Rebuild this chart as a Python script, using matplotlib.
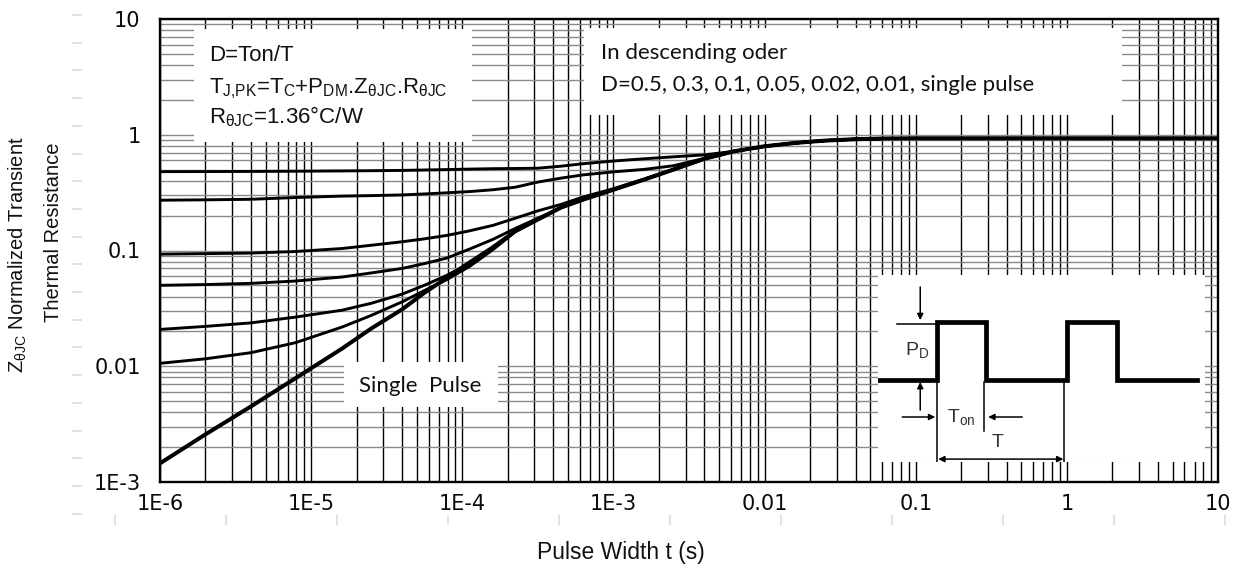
import numpy as np
import matplotlib
matplotlib.use("Agg")
import matplotlib.pyplot as plt
from matplotlib.ticker import FixedLocator, LogLocator, NullFormatter
from matplotlib.patches import Rectangle

# ---------------- data ----------------
pulse_width = [1e-6, 2e-6, 4e-6, 7.9e-6, 1.6e-5, 2.5e-5, 4e-5, 5.6e-5, 7.9e-5, 1.12e-4,
               1.6e-4, 2.24e-4, 3.16e-4, 4.5e-4, 6.3e-4, 1e-3, 1.6e-3, 2.5e-3, 4e-3,
               6.3e-3, 1e-2, 1.6e-2, 2.5e-2, 4e-2, 6.3e-2, 0.1, 1, 10]

z_d050 = [0.48, 0.481, 0.482, 0.484, 0.487, 0.489, 0.492, 0.496, 0.50, 0.505,
          0.509, 0.511, 0.514, 0.535, 0.562, 0.593, 0.62, 0.645, 0.67,
          0.72, 0.795, 0.85, 0.89, 0.915, 0.928, 0.93, 0.93, 0.93]
z_d030 = [0.272, 0.274, 0.277, 0.287, 0.295, 0.298, 0.302, 0.308, 0.315, 0.323,
          0.335, 0.352, 0.39, 0.422, 0.45, 0.478, 0.502, 0.54, 0.625,
          0.72, 0.795, 0.85, 0.89, 0.915, 0.928, 0.93, 0.93, 0.93]
z_d010 = [0.093, 0.094, 0.095, 0.098, 0.104, 0.111, 0.119, 0.126, 0.135, 0.148,
          0.165, 0.19, 0.22, 0.25, 0.29, 0.342, 0.415, 0.505, 0.62,
          0.72, 0.795, 0.85, 0.89, 0.915, 0.928, 0.93, 0.93, 0.93]
z_d005 = [0.050, 0.0508, 0.052, 0.0545, 0.059, 0.064, 0.070, 0.077, 0.086, 0.103,
          0.125, 0.155, 0.19, 0.235, 0.277, 0.336, 0.41, 0.50, 0.62,
          0.72, 0.795, 0.85, 0.89, 0.915, 0.928, 0.93, 0.93, 0.93]
z_d002 = [0.0208, 0.0221, 0.0237, 0.0266, 0.0305, 0.035, 0.042, 0.050, 0.061, 0.078,
          0.104, 0.146, 0.186, 0.235, 0.276, 0.335, 0.41, 0.50, 0.62,
          0.72, 0.795, 0.85, 0.89, 0.915, 0.928, 0.93, 0.93, 0.93]
z_d001 = [0.0106, 0.0116, 0.0131, 0.016, 0.0218, 0.0275, 0.036, 0.045, 0.056, 0.073,
          0.102, 0.145, 0.185, 0.235, 0.275, 0.335, 0.41, 0.50, 0.62,
          0.72, 0.795, 0.85, 0.89, 0.915, 0.928, 0.93, 0.93, 0.93]
z_single = [0.00145, 0.00258, 0.0045, 0.0079, 0.0142, 0.0212, 0.031, 0.043, 0.058, 0.079,
            0.107, 0.147, 0.185, 0.235, 0.275, 0.335, 0.41, 0.50, 0.62,
            0.72, 0.795, 0.85, 0.89, 0.915, 0.928, 0.93, 0.93, 0.93]

duty_series = [z_d050, z_d030, z_d010, z_d005, z_d002, z_d001]

x_ticks = [1e-6, 1e-5, 1e-4, 1e-3, 1e-2, 1e-1, 1, 10]
x_labels = ["1E-6", "1E-5", "1E-4", "1E-3", "0.01", "0.1", "1", "10"]
y_ticks = [1e-3, 1e-2, 1e-1, 1, 10]
y_labels = ["1E-3", "0.01", "0.1", "1", "10"]

# inset schematic (inset-axes units)
wave_u = [0.0, 0.18, 0.18, 0.33, 0.33, 0.578, 0.578, 0.731, 0.731, 0.976]
wave_v = [0.439, 0.439, 0.749, 0.749, 0.439, 0.439, 0.749, 0.749, 0.439, 0.439]

# ---------------- figure ----------------
W, H = 1242, 566
fig = plt.figure(figsize=(W / 100, H / 100), dpi=100)
fig.patch.set_facecolor("white")

def fx(px):
    return px / W

def fy(py):
    return 1 - py / H

# ghost (faint) ticks of an outer frame
gx0, gx1, gy0, gy1 = 82, 1232, 10, 515
gax = fig.add_axes([fx(gx0), fy(gy1), fx(gx1 - gx0), (gy1 - gy0) / H])
gax.set_xlim(gx0, gx1)
gax.set_ylim(gy1, gy0)
gax.patch.set_alpha(0)
for s in gax.spines.values():
    s.set_visible(False)
gax.set_xticks([115 + 111 * k for k in range(11)])
gax.set_yticks([15 + 27.7 * k for k in range(19)])
gax.tick_params(direction="out", length=7, width=1.3, color="#dedede",
                labelbottom=False, labelleft=False)

L, R, T, B = 160, 1218, 19, 482
ax = fig.add_axes([fx(L), fy(B), fx(R - L), (B - T) / H])
ax.set_xscale("log")
ax.set_yscale("log")
ax.set_xlim(1e-6, 10)
ax.set_ylim(1e-3, 10)

ax.xaxis.set_major_locator(FixedLocator(x_ticks))
ax.yaxis.set_major_locator(FixedLocator(y_ticks))
ax.xaxis.set_minor_locator(LogLocator(base=10, subs=np.arange(2, 10), numticks=100))
ax.yaxis.set_minor_locator(LogLocator(base=10, subs=np.arange(2, 10), numticks=100))
ax.xaxis.set_minor_formatter(NullFormatter())
ax.yaxis.set_minor_formatter(NullFormatter())
ax.set_xticklabels(x_labels, fontfamily="DejaVu Sans", fontsize=15, color="#0a0a0a")
ax.set_yticklabels(y_labels, fontfamily="DejaVu Sans", fontsize=15, color="#0a0a0a")
ax.tick_params(which="both", length=0)
ax.tick_params(axis="x", pad=9)
ax.tick_params(axis="y", pad=14)

ax.set_axisbelow(True)
ax.grid(which="both", axis="x", color="black", lw=1.0, zorder=0.5)
ax.grid(which="both", axis="y", color="#8a8a8a", lw=1.0, zorder=0.5)
for s in ax.spines.values():
    s.set_linewidth(1.7)
    s.set_color("black")
    s.set_zorder(5)

# white boxes covering grid
def box(x0, y0, x1, y1):
    ax.add_patch(Rectangle((x0, y0), x1 - x0, y1 - y0, transform=ax.transAxes,
                           facecolor="white", edgecolor="none", zorder=2))

box(0.032, 0.734, 0.295, 0.978)
box(0.401, 0.793, 0.909, 0.981)
box(0.174, 0.162, 0.319, 0.259)

# curves
for zs in duty_series:
    ax.plot(pulse_width, zs, color="black", lw=2.1, zorder=3,
            solid_capstyle="round", solid_joinstyle="round")
ax.plot(pulse_width, z_single, color="black", lw=2.9, zorder=3,
        solid_capstyle="round", solid_joinstyle="round")

# texts
tf = dict(transform=ax.transAxes, zorder=4, color="#111111")
ax.text(0.046, 0.922, "D=Ton/T", fontfamily="Liberation Sans", fontsize=16, va="center", **tf)
ax.text(0.046, 0.850,
        r"T$_{\mathregular{J{,}PK}}$=T$_{\mathregular{C}}$+P$_{\mathregular{DM}}$."
        r"Z$_{\mathregular{\theta JC}}$.R$_{\mathregular{\theta JC}}$",
        fontfamily="Liberation Sans", fontsize=16, va="center", **tf)
ax.text(0.046, 0.789, r"R$_{\mathregular{\theta JC}}$=1.36°C/W",
        fontfamily="Liberation Sans", fontsize=16, va="center", **tf)
ax.text(0.417, 0.927, "In descending oder", fontfamily="Lato", fontsize=16, va="center", **tf)
ax.text(0.417, 0.857, "D=0.5, 0.3, 0.1, 0.05, 0.02, 0.01, single pulse",
        fontfamily="Lato", fontsize=16, va="center", **tf)
ax.text(0.2455, 0.207, "Single  Pulse", fontfamily="Lato", fontsize=16,
        ha="center", va="center", **tf)

# inset schematic
ins = ax.inset_axes([0.679, 0.043, 0.309, 0.404], zorder=6)
ins.set_xlim(0, 1)
ins.set_ylim(0, 1)
ins.set_facecolor("white")
ins.set_xticks([])
ins.set_yticks([])
for s in ins.spines.values():
    s.set_visible(False)
ins.plot(wave_u, wave_v, color="black", lw=3.4, solid_joinstyle="miter")
ins.plot([0.058, 0.18], [0.738, 0.738], color="black", lw=1.1)
ins.plot([0.18, 0.18], [0.439, 0.0], color="black", lw=1.1)
ins.plot([0.324, 0.324], [0.428, 0.166], color="black", lw=1.1)
ins.plot([0.569, 0.569], [0.428, 0.0], color="black", lw=1.1)
ins.plot([0.0, 1.0], [0.0, 0.0], color="#bbbbbb", lw=0.8, ls=(0, (2, 3)))
ap = dict(arrowstyle="-|>", color="black", lw=1.1, mutation_scale=9, shrinkA=0, shrinkB=0)
ins.annotate("", xy=(0.128, 0.759), xytext=(0.128, 0.936), arrowprops=ap)
ins.annotate("", xy=(0.128, 0.428), xytext=(0.128, 0.278), arrowprops=ap)
ins.annotate("", xy=(0.174, 0.241), xytext=(0.073, 0.241), arrowprops=ap)
ins.annotate("", xy=(0.336, 0.241), xytext=(0.440, 0.241), arrowprops=ap)
ap2 = dict(arrowstyle="<|-|>", color="black", lw=1.1, mutation_scale=9, shrinkA=0, shrinkB=0)
ins.annotate("", xy=(0.183, 0.016), xytext=(0.566, 0.016), arrowprops=ap2)
ins.text(0.12, 0.60, r"$\mathregular{P_D}$", fontfamily="Liberation Sans", fontsize=14,
         ha="center", va="center", color="#333333")
ins.text(0.254, 0.241, r"$\mathregular{T_{on}}$", fontfamily="Liberation Sans", fontsize=14,
         ha="center", va="center", color="#333333")
ins.text(0.364, 0.107, "T", fontfamily="Liberation Sans", fontsize=14,
         ha="center", va="center", color="#333333")

# axis titles
fig.text(fx(18), fy(373), r"$\mathregular{Z_{\theta JC}}$ Normalized Transient",
         rotation=90, ha="center", va="bottom", fontfamily="Liberation Sans", fontsize=14.5,
         color="#111111")
fig.text(fx(54), fy(232), "Thermal Resistance", rotation=90, ha="center", va="center",
         fontfamily="Liberation Sans", fontsize=14.5, color="#111111")
fig.text(0.5, fy(553), "Pulse Width t (s)", ha="center", va="center",
         fontfamily="Liberation Sans", fontsize=16.5, color="#111111")

fig.savefig("out.png", dpi=100, facecolor="white")
